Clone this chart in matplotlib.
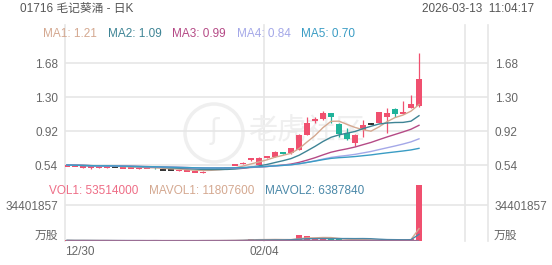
import matplotlib

matplotlib.use("Agg")

import matplotlib.pyplot as plt
import numpy as np
import pandas as pd
from matplotlib.patches import Circle

W, H, DPI = 552, 265, 100
FONT = ["Liberation Sans", "Noto Sans CJK SC", "DejaVu Sans"]

UP = "#f0506f"
DOWN = "#1fb39a"
FLAT = "#222222"
GRID = "#e6e6e6"
LABEL = "#666666"

# daily candles, 12/30 onwards
opens = [0.530, 0.530, 0.505, 0.505, 0.510, 0.505, 0.520, 0.505, 0.505, 0.500,
         0.505, 0.525, 0.485, 0.485, 0.478, 0.476, 0.460, 0.455, 0.490, 0.500,
         0.510, 0.540, 0.555, 0.595, 0.545, 0.620, 0.635, 0.680, 0.670, 0.710,
         0.880, 1.030, 1.050, 1.120, 1.000, 0.900, 0.790, 0.930, 1.000, 1.010,
         1.080, 1.170, 1.110, 1.180, 1.200]
highs = [0.545, 0.540, 0.535, 0.530, 0.530, 0.535, 0.520, 0.510, 0.510, 0.510,
         0.512, 0.525, 0.485, 0.485, 0.482, 0.480, 0.475, 0.470, 0.495, 0.510,
         0.520, 0.555, 0.575, 0.620, 0.625, 0.645, 0.695, 0.690, 0.735, 0.885,
         1.080, 1.080, 1.140, 1.125, 1.005, 0.950, 0.885, 1.040, 1.005, 1.135,
         1.180, 1.175, 1.260, 1.320, 1.790]
lows = [0.525, 0.525, 0.505, 0.500, 0.505, 0.505, 0.520, 0.505, 0.505, 0.500,
        0.505, 0.500, 0.485, 0.485, 0.478, 0.476, 0.460, 0.455, 0.490, 0.500,
        0.510, 0.535, 0.550, 0.590, 0.540, 0.615, 0.630, 0.665, 0.665, 0.705,
        0.875, 1.010, 1.045, 1.010, 0.850, 0.825, 0.750, 0.850, 0.995, 1.005,
        0.900, 1.080, 1.105, 1.175, 1.190]
closes = [0.540, 0.535, 0.530, 0.525, 0.525, 0.530, 0.520, 0.510, 0.510, 0.505,
          0.510, 0.505, 0.485, 0.485, 0.482, 0.480, 0.475, 0.470, 0.495, 0.510,
          0.520, 0.545, 0.570, 0.615, 0.620, 0.640, 0.690, 0.675, 0.730, 0.880,
          1.010, 1.050, 1.120, 1.080, 0.890, 0.830, 0.880, 0.990, 1.000, 1.130,
          1.120, 1.110, 1.130, 1.220, 1.500]
volumes = [620000, 410000, 530000, 380000, 290000, 450000, 120000, 260000,
           180000, 310000, 220000, 540000, 90000, 150000, 240000, 330000,
           460000, 520000, 280000, 350000, 610000, 880000, 1250000, 2100000,
           1650000, 980000, 1420000, 760000, 1880000, 5700000, 4850000,
           1960000, 2380000, 1540000, 1730000, 1120000, 860000, 1240400,
           520000, 1100000, 1210000, 980000, 1454000, 1880000, 53514000]

ma_periods = [5, 10, 20, 30, 60]
ma_names = ["MA1", "MA2", "MA3", "MA4", "MA5"]
ma_last = ["1.21", "1.09", "0.99", "0.84", "0.70"]
ma_colors = ["#d4a890", "#3e8495", "#b54a86", "#a4a8e8", "#3a9cc4"]

vol_periods = [5, 10]
vol_legend = ["VOL1: 53514000", "MAVOL1: 11807600", "MAVOL2: 6387840"]
vol_colors = ["#ee6d86", "#d4a890", "#4a88a8"]

price_ticks = [0.54, 0.92, 1.30, 1.68]
vol_tick = 34401857
date_labels = ["12/30", "02/04"]

title = "01716 毛记葵涌 - 日K"
stamp = "2026-03-13  11:04:17"


def frac(left, top, right, bottom):
    return [left / W, (H - bottom) / H, (right - left) / W, (bottom - top) / H]


def main():
    fig = plt.figure(figsize=(W / DPI, H / DPI), dpi=DPI, facecolor="white")

    bg = fig.add_axes([0, 0, 1, 1], zorder=0)
    bg.set_xlim(0, W)
    bg.set_ylim(H, 0)
    bg.axis("off")

    # plot frame: x 65..488, price panel 45..178, volume 180..241
    left, right = 65, 488
    for gx in (left, 264, 465, right):
        bg.plot([gx, gx], [25, 241], color=GRID, lw=1.2, zorder=1)

    # watermark
    bg.add_patch(Circle((214, 133), 29, fill=False, ec="#efefef", lw=2.5, zorder=1))
    bg.text(214, 131, "ʃ", fontsize=20, color="#efefef", ha="center", va="center",
            family="DejaVu Sans", zorder=1)
    bg.text(248, 131, "老虎社区", fontsize=21, color="#efefef", ha="left",
            va="center", family=FONT, zorder=1)

    n = len(closes)
    step = 8.0
    x = np.arange(n)
    xlim = ((left - 67) / step, (right - 67) / step)

    k = 1.14 / 102
    price = fig.add_axes(frac(left, 45, right, 178), zorder=2)
    price.set_xlim(*xlim)
    price.set_ylim(0.54 - 13 * k, 0.54 + 120 * k)
    price.patch.set_alpha(0)
    for s in price.spines.values():
        s.set_visible(False)
    price.set_xticks([])
    price.set_yticks(price_ticks)
    price.set_yticklabels([f"{t:.2f}" for t in price_ticks])
    price.tick_params(axis="y", length=0, labelleft=True, labelright=True,
                      labelsize=8.5, labelcolor=LABEL, pad=5)
    for lab in price.get_yticklabels():
        lab.set_family(FONT)
    for t in price_ticks:
        price.axhline(t, color=GRID, lw=1.2, zorder=0)

    o = np.array(opens)
    c = np.array(closes)
    hi = np.array(highs)
    lo = np.array(lows)
    colors = np.where(c > o, UP, np.where(c < o, DOWN, FLAT))

    minh = 1.6 * k
    body_w = 0.7
    price.vlines(x, lo, hi, colors=colors, lw=0.9, zorder=3)
    body = np.maximum(np.abs(c - o), minh)
    bottom = np.minimum(o, c) - np.where(np.abs(c - o) < minh, minh / 2, 0)
    is_flat = c == o
    price.bar(x[~is_flat], body[~is_flat], bottom=bottom[~is_flat], width=body_w,
              color=colors[~is_flat], lw=0, zorder=3)
    price.hlines(c[is_flat], x[is_flat] - body_w / 2, x[is_flat] + body_w / 2,
                 colors=FLAT, lw=1.3, zorder=3)

    cs = pd.Series(closes)
    for period, col in zip(ma_periods, ma_colors):
        ma = cs.rolling(period, min_periods=1).mean()
        price.plot(x, ma, color=col, lw=1.0, zorder=4)

    vpx = 34401857 / 36
    vol = fig.add_axes(frac(left, 180, right, 241), zorder=2)
    vol.set_xlim(*xlim)
    vol.set_ylim(0, 61 * vpx)
    vol.patch.set_alpha(0)
    for s in vol.spines.values():
        s.set_visible(False)
    vol.set_xticks([])
    vol.set_yticks([vol_tick])
    vol.set_yticklabels([str(vol_tick)])
    vol.tick_params(axis="y", length=0, labelleft=True, labelright=True,
                    labelsize=8.5, labelcolor=LABEL, pad=5)
    for lab in vol.get_yticklabels():
        lab.set_family(FONT)
    vol.axhline(vol_tick, color=GRID, lw=1.2, zorder=0)
    vcol = np.where(c >= o, UP, DOWN)
    vol.bar(x, volumes, width=body_w, color=vcol, lw=0, zorder=3)
    vs = pd.Series(volumes, dtype=float)
    for period, col in zip(vol_periods, vol_colors[1:]):
        mv = vs.rolling(period, min_periods=1).mean()
        vol.plot(x, mv, color=col, lw=1.0, zorder=4)
    vol.plot([x[0], x[-1]], [0, 0], color="#9b6f95", lw=1.6, zorder=5,
             solid_capstyle="butt")

    # header texts
    bg.text(20, 9, title, fontsize=8.5, color="#555555", ha="left", va="center",
            family=FONT)
    bg.text(534, 9, stamp, fontsize=8.5, color="#555555", ha="right",
            va="center", family=FONT)
    for xx, name, val, col in zip((43, 108, 172, 237, 301), ma_names, ma_last,
                                  ma_colors):
        bg.text(xx, 34, f"{name}: {val}", fontsize=8.5, color=col, ha="left",
                va="center", family=FONT, zorder=5)
    for xx, txt, col in zip((49, 149, 265), vol_legend, vol_colors):
        bg.text(xx, 191, txt, fontsize=8.5, color=col, ha="left", va="center",
                family=FONT, zorder=5)

    bg.text(58, 236, "万股", fontsize=8.5, color=LABEL, ha="right", va="center",
            family=FONT)
    bg.text(494, 236, "万股", fontsize=8.5, color=LABEL, ha="left", va="center",
            family=FONT)
    bg.text(65, 252, date_labels[0], fontsize=8.5, color=LABEL, ha="left",
            va="center", family=FONT)
    bg.text(264, 252, date_labels[1], fontsize=8.5, color=LABEL, ha="center",
            va="center", family=FONT)

    fig.savefig("out.png", dpi=DPI, facecolor="white")
    plt.close(fig)


if __name__ == "__main__":
    main()
